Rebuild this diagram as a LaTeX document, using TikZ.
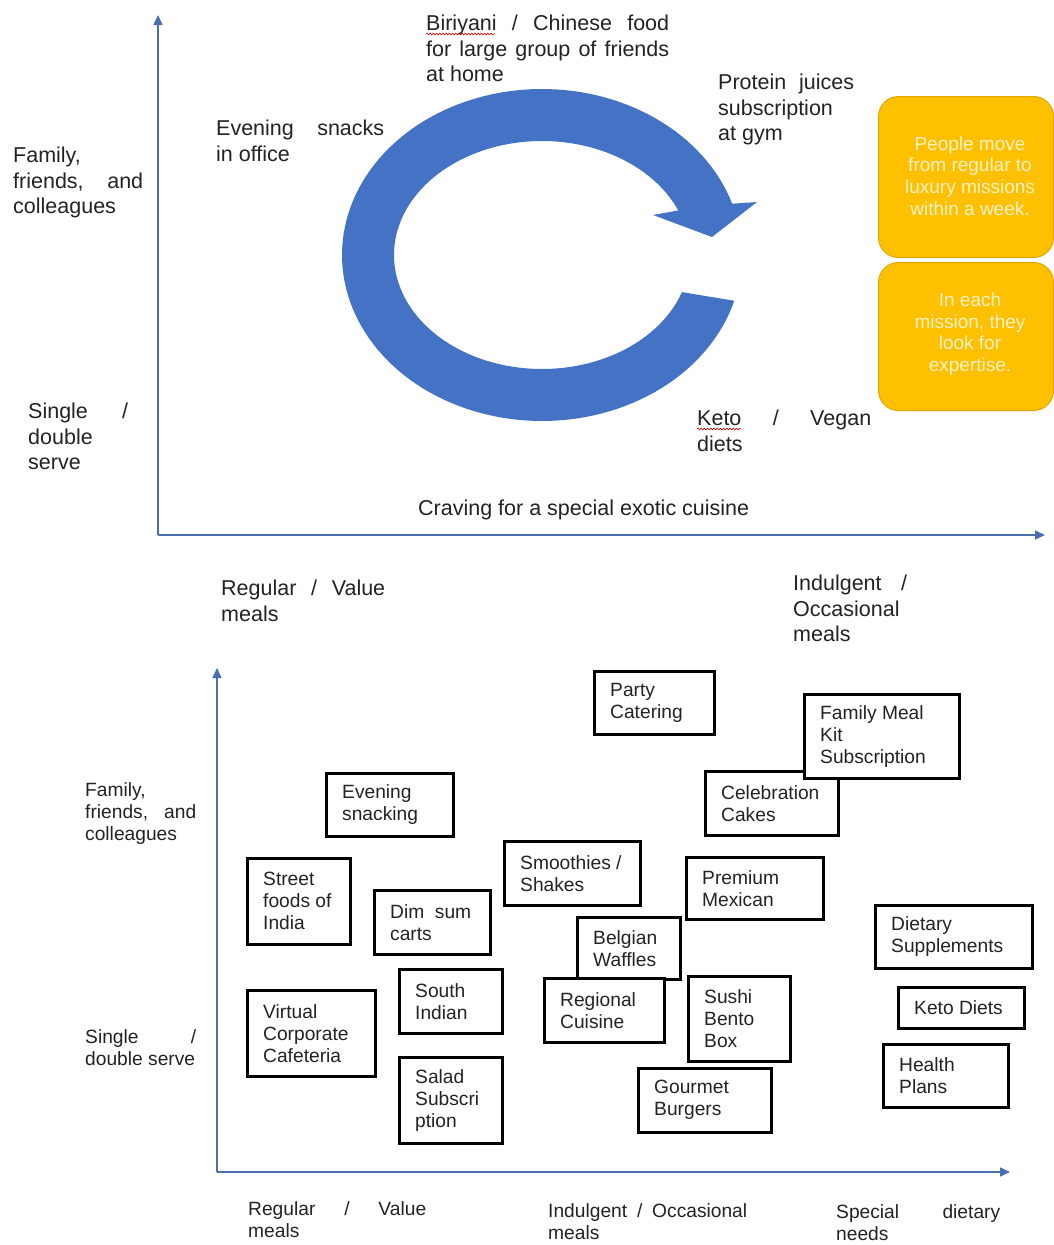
\documentclass[tikz,border=0pt]{standalone}
\usepackage{fontspec}
\setmainfont{Liberation Sans}
\usetikzlibrary{arrows.meta,decorations.pathmorphing}
\definecolor{axblue}{RGB}{75,110,175}
\definecolor{ringblue}{RGB}{68,114,196}
\definecolor{gold}{RGB}{255,192,0}
\definecolor{goldline}{RGB}{222,168,0}
\definecolor{goldtext}{RGB}{255,242,200}
\definecolor{txt}{RGB}{35,35,35}
\newcommand\ft{\fontsize{21.5}{25.5}\selectfont}
\newcommand\fb{\fontsize{19.2}{22}\selectfont}
\newcommand\fo{\fontsize{19}{21.8}\selectfont}
\newcommand\st{\rule{0pt}{0.8em}}
\newcommand\jl[2]{\makebox[#1pt][s]{#2}}
\tikzset{
  ax/.style={draw=axblue, line width=1.5, -{Triangle[length=10,width=9]}},
  lbl/.style={anchor=north west, inner sep=0, align=left, text=txt},
  bx/.style={draw=black, line width=2.5, fill=white, inner sep=0, anchor=north west},
  bxt/.style={anchor=west, inner sep=0, align=left, font=\fb, text=txt},
  gbox/.style={draw=goldline, line width=1, fill=gold, rounded corners=20,
     anchor=north west, inner sep=0},
  gtxt/.style={inner sep=0, align=center, font=\fo, text=goldtext},
  squig/.style={draw=red!80!black, line width=0.6,
     decorate, decoration={snake, amplitude=0.9, segment length=3.2}}
}
\newcommand\bx[6]{%
  \pgfmathsetmacro\bw{#4-#2}\pgfmathsetmacro\bh{#5-#3}%
  \node[bx, minimum width=\bw pt, minimum height=\bh pt] (#1) at (#2,#3) {};
  \node[bxt] (#1-t) at ([xshift=17pt]#1.west) {#6};}
\begin{document}
\begin{tikzpicture}[x=1pt,y=-1pt]
\useasboundingbox (0,0) rectangle (1054,1245);
\fill[white] (0,0) rectangle (1054,1245);

% ---------- top chart axes ----------
\coordinate (O1) at (158,535);
\coordinate (Y1) at (158,15);
\coordinate (X1) at (1045,535);
\draw[ax] (O1) -- (Y1);
\draw[ax] (O1) -- (X1);

% circular arrow
\fill[ringblue] plot[domain=16:342, samples=140] ({542+200*cos(\x)},{255+166*sin(\x)})
  -- (757,202) -- (712,237) -- (653,215)
  -- plot[domain=337:19, samples=140] ({542+148*cos(\x)},{255+114*sin(\x)}) -- cycle;

% top labels
\node[lbl, font=\ft] (famT) at (13,145.3) {\st Family,\\ \jl{130}{friends, and}\\ colleagues};
\node[lbl, font=\ft] (sinT) at (28,401.3) {\st \jl{100}{Single /}\\ double\\ serve};
\node[lbl, font=\ft] (eveT) at (216,118.3) {\st \jl{168}{Evening snacks}\\ in office};
\node[lbl, font=\ft] (biriT) at (426,13.3) {\st \jl{243}{Biriyani / Chinese food}\\ \jl{243}{for large group of friends}\\ at home};
\node[lbl, font=\ft] (protT) at (718,72.3) {\st \jl{136}{Protein juices}\\ subscription\\ at gym};
\node[lbl, font=\ft] (ketoT) at (697,408.3) {\st \jl{174}{Keto / Vegan}\\ diets};
\node[lbl, font=\ft] (cravT) at (418,498.3) {\st Craving for a special exotic cuisine};
\node[lbl, font=\ft] (regT) at (221,578.3) {\st \jl{164}{Regular / Value}\\ meals};
\node[lbl, font=\ft] (indT) at (793,573.3) {\st \jl{114}{Indulgent /}\\ Occasional\\ meals};
\draw[squig] (426,34) -- (495,34);
\draw[squig] (697,429) -- (741,429);

% orange notes
\node[gbox, minimum width=175pt, minimum height=161pt] (note1) at (878,96) {};
\node[gtxt] (note1-t) at (970,176) {People move\\ from regular to\\ luxury missions\\ within a week.};
\node[gbox, minimum width=175pt, minimum height=148pt] (note2) at (878,262) {};
\node[gtxt] (note2-t) at (970,334) {In each\\ mission, they\\ look for\\ expertise.};

% ---------- bottom chart axes ----------
\coordinate (O2) at (217,1172);
\coordinate (Y2) at (217,668);
\coordinate (X2) at (1010,1172);
\draw[ax] (O2) -- (Y2);
\draw[ax] (O2) -- (X2);

\node[lbl, font=\fb] (famB) at (85,781.4) {\st Family,\\ \jl{111}{friends, and}\\ colleagues};
\node[lbl, font=\fb] (sinB) at (85,1028.4) {\st \jl{111}{Single /}\\ double serve};
\node[lbl, font=\fb] (regB) at (248,1200.4) {\st \jl{178}{Regular / Value}\\ meals};
\node[lbl, font=\fb] (indB) at (548,1202.4) {\st \jl{199}{Indulgent / Occasional}\\ meals};
\node[lbl, font=\fb] (speB) at (836,1203.4) {\st \jl{164}{Special dietary}\\ needs};

% boxes
\bx{party}{593}{670}{713}{733}{Party\\ Catering}
\bx{evesn}{325}{772}{452}{835}{Evening\\ snacking}
\bx{street}{246}{857}{349}{943}{Street\\ foods of\\ India}
\bx{dimsum}{373}{889}{489}{953}{\jl{81}{Dim sum}\\ carts}
\bx{smooth}{503}{840}{639}{904}{Smoothies /\\ Shakes}
\bx{south}{398}{968}{501}{1032}{South\\ Indian}
\bx{virtual}{246}{989}{374}{1075}{Virtual\\ Corporate\\ Cafeteria}
\bx{salad}{398}{1056}{501}{1142}{Salad\\ Subscri\\ ption}
\bx{belgian}{576}{916}{679}{978}{Belgian\\ Waffles}
\bx{regional}{543}{977}{663}{1041}{Regional\\ Cuisine}
\bx{sushi}{687}{975}{789}{1060}{Sushi\\ Bento\\ Box}
\bx{gourmet}{637}{1067}{770}{1131}{Gourmet\\ Burgers}
\bx{premium}{685}{856}{822}{918}{Premium\\ Mexican}
\bx{celeb}{704}{770}{837}{834}{Celebration\\ Cakes}
\bx{family}{803}{693}{958}{777}{Family Meal\\ Kit\\ Subscription}
\bx{dietary}{874}{904}{1031}{967}{Dietary\\ Supplements}
\bx{keto}{897}{986}{1023}{1027}{Keto Diets}
\bx{health}{882}{1043}{1007}{1106}{Health\\ Plans}
\end{tikzpicture}
\end{document}
